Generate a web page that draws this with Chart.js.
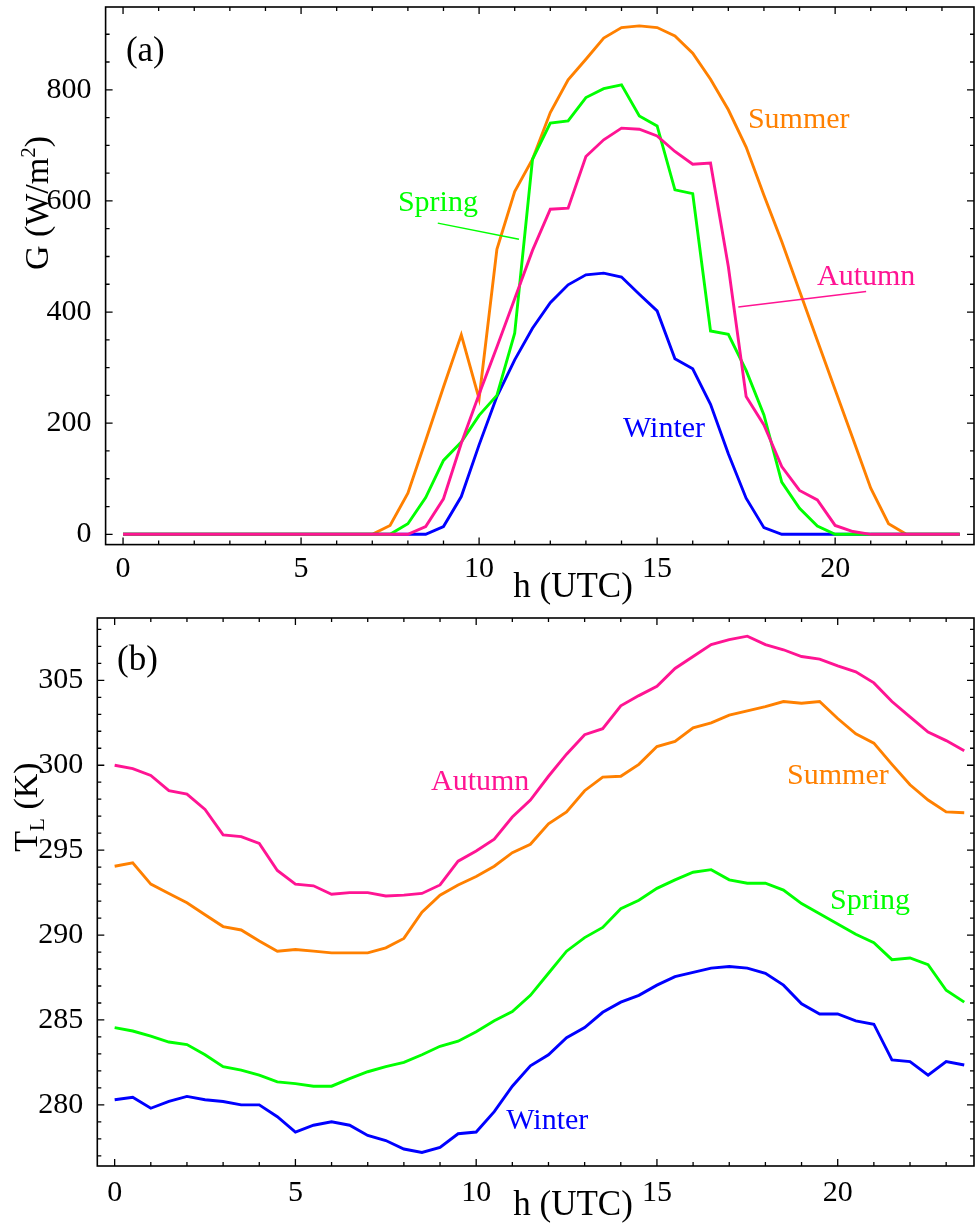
<!DOCTYPE html>
<html>
<head>
<meta charset="utf-8">
<title>Seasonal irradiance and temperature</title>
<script src="https://cdn.jsdelivr.net/npm/chart.js@4.4.1/dist/chart.umd.min.js"></script>
<style>
  body { margin: 0; background: #fff; }
  #wrapA { position: absolute; left: 0; top: 0; }
  #wrapB { position: absolute; left: 0; top: 610px; }
</style>
</head>
<body>
<div id="wrapA"><canvas id="chartA" width="976" height="610"></canvas></div>
<div id="wrapB"><canvas id="chartB" width="976" height="615"></canvas></div>
<script>
// hours (UTC), half-hourly
const hours = [0, 0.5, 1, 1.5, 2, 2.5, 3, 3.5, 4, 4.5, 5, 5.5, 6, 6.5, 7, 7.5, 8, 8.5, 9, 9.5,
    10, 10.5, 11, 11.5, 12, 12.5, 13, 13.5, 14, 14.5, 15, 15.5, 16, 16.5, 17, 17.5, 18, 18.5, 19, 19.5,
    20, 20.5, 21, 21.5, 22, 22.5, 23, 23.5];

// (a) irradiance G (W/m2)
const gSummer = [0, 0, 0, 0, 0, 0, 0, 0, 0, 0, 0, 0, 0, 0, 0, 16, 74, 169, 265, 359,
    244, 513, 617, 675, 759, 818, 855, 893, 912, 915, 912, 897, 866, 819, 764, 697, 610, 527, 438, 349,
    260, 172, 83, 19, 0, 0, 0, 0];
const gSpring = [0, 0, 0, 0, 0, 0, 0, 0, 0, 0, 0, 0, 0, 0, 0, 0, 19, 66, 133, 166,
    214, 250, 362, 675, 740, 744, 786, 802, 809, 753, 735, 620, 613, 366, 360, 295, 215, 94, 47, 15,
    0, 0, 0, 0, 0, 0, 0, 0];
const gAutumn = [0, 0, 0, 0, 0, 0, 0, 0, 0, 0, 0, 0, 0, 0, 0, 0, 0, 14, 64, 164,
    252, 337, 424, 511, 585, 587, 680, 710, 731, 729, 717, 689, 666, 668, 482, 248, 197, 122, 79, 62,
    16, 5, 0, 0, 0, 0, 0, 0];
const gWinter = [0, 0, 0, 0, 0, 0, 0, 0, 0, 0, 0, 0, 0, 0, 0, 0, 0, 0, 14, 68,
    161, 248, 314, 371, 417, 449, 467, 470, 463, 432, 402, 316, 298, 234, 145, 65, 12, 0, 0, 0,
    0, 0, 0, 0, 0, 0, 0, 0];

// (b) temperature T_L (K)
const tAutumn = [300.0, 299.8, 299.4, 298.5, 298.3, 297.4, 295.9, 295.8, 295.4, 293.8, 293.0, 292.9,
    292.4, 292.5, 292.5, 292.3, 292.35, 292.45, 292.95, 294.35, 294.95, 295.65, 296.95, 297.95,
    299.35, 300.65, 301.8, 302.15, 303.5, 304.1, 304.65, 305.7, 306.4, 307.1, 307.4, 307.6,
    307.1, 306.8, 306.4, 306.25, 305.85, 305.5, 304.85, 303.75, 302.85, 301.95, 301.45, 300.85];
const tSummer = [294.05, 294.25, 293.0, 292.45, 291.9, 291.2, 290.5, 290.3, 289.65, 289.05, 289.15, 289.05,
    288.95, 288.95, 288.95, 289.25, 289.8, 291.35, 292.35, 292.95, 293.45, 294.05, 294.85, 295.35,
    296.55, 297.25, 298.5, 299.3, 299.35, 300.05, 301.1, 301.4, 302.2, 302.5, 302.95, 303.2,
    303.45, 303.75, 303.65, 303.75, 302.75, 301.85, 301.3, 300.05, 298.85, 297.95, 297.25, 297.2];
const tSpring = [284.55, 284.35, 284.05, 283.7, 283.55, 282.95, 282.25, 282.05, 281.75, 281.35, 281.25, 281.1,
    281.1, 281.55, 281.95, 282.25, 282.5, 282.95, 283.45, 283.75, 284.3, 284.95, 285.5, 286.45,
    287.75, 289.05, 289.85, 290.45, 291.55, 292.05, 292.75, 293.25, 293.7, 293.85, 293.25, 293.05,
    293.05, 292.65, 291.85, 291.25, 290.65, 290.05, 289.55, 288.55, 288.65, 288.25, 286.75, 286.05];
const tWinter = [280.3, 280.45, 279.8, 280.2, 280.5, 280.3, 280.2, 280.0, 280.0, 279.3, 278.4, 278.8,
    279.0, 278.8, 278.2, 277.9, 277.4, 277.2, 277.5, 278.3, 278.4, 279.6, 281.1, 282.3,
    282.95, 283.95, 284.55, 285.45, 286.05, 286.45, 287.05, 287.55, 287.8, 288.05, 288.15, 288.05,
    287.75, 287.05, 285.95, 285.35, 285.35, 284.95, 284.75, 282.65, 282.55, 281.75, 282.55, 282.35];

// tick labels
const xMajorTicks = [0, 5, 10, 15, 20];
const gMajorTicks = [0, 200, 400, 600, 800];
const tMajorTicks = [280, 285, 290, 295, 300, 305];

const FONT = "'Liberation Serif', 'Times New Roman', serif";
const C_SUMMER = '#ff8000';
const C_SPRING = '#00ff00';
const C_AUTUMN = '#ff1493';
const C_WINTER = '#0000ff';

function pts(vals) {
    return hours.map((h, i) => ({ x: h, y: vals[i] }));
}

function line(label, vals, color) {
    return {
        label: label,
        data: pts(vals),
        borderColor: color,
        backgroundColor: color,
        borderWidth: 2.9,
        pointRadius: 0,
        tension: 0,
        fill: false
    };
}

function range(a, b, step) {
    const out = [];
    for (let v = a; v <= b + 1e-9; v += step) out.push(v);
    return out;
}

// frame with inward ticks on all four sides
const frameTicks = {
    id: 'frameTicks',
    afterDraw(chart, args, o) {
        const { ctx, chartArea: a, scales: { x, y } } = chart;
        ctx.save();
        ctx.strokeStyle = '#000';
        ctx.lineWidth = 1.6;
        ctx.strokeRect(a.left, a.top, a.right - a.left, a.bottom - a.top);
        ctx.lineWidth = 1.3;
        ctx.beginPath();
        o.xMinor.forEach(v => {
            const px = x.getPixelForValue(v);
            const len = o.xMajor.includes(v) ? 7 : 4;
            ctx.moveTo(px, a.bottom); ctx.lineTo(px, a.bottom - len);
            ctx.moveTo(px, a.top); ctx.lineTo(px, a.top + len);
        });
        o.yMinor.forEach(v => {
            const py = y.getPixelForValue(v);
            const len = o.yMajor.includes(v) ? 7 : 4;
            ctx.moveTo(a.left, py); ctx.lineTo(a.left + len, py);
            ctx.moveTo(a.right, py); ctx.lineTo(a.right - len, py);
        });
        ctx.stroke();
        ctx.restore();
    }
};

// text with sub/superscripts, centred on (0,0)
function drawRich(ctx, parts, size) {
    let total = 0;
    const items = parts.map(p => {
        const s = (p.sub || p.sup) ? size * 0.62 : size;
        ctx.font = s + 'px ' + FONT;
        const w = ctx.measureText(p.t).width;
        total += w;
        return { p, s, w };
    });
    let x = -total / 2;
    const base = size * 0.33;
    items.forEach(({ p, s, w }) => {
        ctx.font = s + 'px ' + FONT;
        let dy = base;
        if (p.sub) dy += size * 0.2;
        if (p.sup) dy -= size * 0.4;
        ctx.fillText(p.t, x, dy);
        x += w;
    });
}

// axis titles, panel tags and series labels
const annotate = {
    id: 'annotate',
    afterDraw(chart, args, o) {
        const { ctx, scales: { x, y } } = chart;
        ctx.save();
        ctx.textAlign = 'left';
        ctx.textBaseline = 'alphabetic';
        ctx.fillStyle = '#000';
        // y title (rotated)
        ctx.save();
        ctx.translate(o.yTitle.cx, o.yTitle.cy);
        ctx.rotate(-Math.PI / 2);
        drawRich(ctx, o.yTitle.parts, 34);
        ctx.restore();
        // x title
        ctx.save();
        ctx.translate(o.xTitle.cx, o.xTitle.cy);
        drawRich(ctx, [{ t: 'h (UTC)' }], 35);
        ctx.restore();
        // labels at data positions
        o.labels.forEach(l => {
            ctx.font = (l.size || 30) + 'px ' + FONT;
            ctx.fillStyle = l.color;
            ctx.fillText(l.text, x.getPixelForValue(l.x), y.getPixelForValue(l.y));
        });
        // leader lines
        ctx.lineWidth = 1.4;
        (o.leaders || []).forEach(l => {
            ctx.strokeStyle = l.color;
            ctx.beginPath();
            ctx.moveTo(x.getPixelForValue(l.x1), y.getPixelForValue(l.y1));
            ctx.lineTo(x.getPixelForValue(l.x2), y.getPixelForValue(l.y2));
            ctx.stroke();
        });
        ctx.restore();
    }
};

function makeScales(xmin, xmax, ymin, ymax, yTicks, yWidth, xHeight, xPad) {
    return {
        x: {
            type: 'linear', min: xmin, max: xmax,
            grid: { display: false }, border: { display: false },
            ticks: {
                color: '#000', font: { family: FONT, size: 30 }, padding: xPad,
                maxRotation: 0, autoSkip: false, callback: v => String(v)
            },
            afterBuildTicks: s => { s.ticks = xMajorTicks.map(v => ({ value: v })); },
            afterFit: s => { s.height = xHeight; s.paddingLeft = 0; s.paddingRight = 0; }
        },
        y: {
            type: 'linear', min: ymin, max: ymax,
            grid: { display: false }, border: { display: false },
            ticks: {
                color: '#000', font: { family: FONT, size: 30 }, padding: 6,
                autoSkip: false, callback: v => String(v)
            },
            afterBuildTicks: s => { s.ticks = yTicks.map(v => ({ value: v })); },
            afterFit: s => { s.width = yWidth; s.paddingTop = 0; s.paddingBottom = 0; }
        }
    };
}

const baseOpts = {
    responsive: false,
    devicePixelRatio: 1,
    animation: false,
    events: []
};

new Chart(document.getElementById('chartA').getContext('2d'), {
    type: 'line',
    data: {
        datasets: [
            line('Autumn', gAutumn, C_AUTUMN),
            line('Spring', gSpring, C_SPRING),
            line('Winter', gWinter, C_WINTER),
            line('Summer', gSummer, C_SUMMER)
        ]
    },
    options: Object.assign({}, baseOpts, {
        layout: { padding: { top: 7, right: 2, left: 0, bottom: 0 } },
        scales: makeScales(-0.49, 23.9, -18.5, 949, gMajorTicks, 105.6, 65.4, -1),
        plugins: {
            legend: { display: false },
            tooltip: { enabled: false },
            frameTicks: { xMinor: range(0, 23, 1), xMajor: xMajorTicks, yMinor: range(0, 900, 50), yMajor: gMajorTicks },
            annotate: {
                yTitle: { cx: 37, cy: 203, parts: [{ t: 'G (W/m' }, { t: '2', sup: true }, { t: ')' }] },
                xTitle: { cx: 573, cy: 585 },
                labels: [
                    { text: '(a)', x: 0.08, y: 852, color: '#000', size: 35 },
                    { text: 'Summer', x: 17.55, y: 731, color: C_SUMMER },
                    { text: 'Spring', x: 7.72, y: 582, color: C_SPRING },
                    { text: 'Autumn', x: 19.49, y: 449, color: C_AUTUMN },
                    { text: 'Winter', x: 14.04, y: 175, color: C_WINTER }
                ],
                leaders: [
                    { x1: 8.84, y1: 560, x2: 11.12, y2: 531, color: C_SPRING },
                    { x1: 17.28, y1: 409, x2: 20.87, y2: 437, color: C_AUTUMN }
                ]
            }
        }
    }),
    plugins: [frameTicks, annotate]
});

new Chart(document.getElementById('chartB').getContext('2d'), {
    type: 'line',
    data: {
        datasets: [
            line('Autumn', tAutumn, C_AUTUMN),
            line('Summer', tSummer, C_SUMMER),
            line('Spring', tSpring, C_SPRING),
            line('Winter', tWinter, C_WINTER)
        ]
    },
    options: Object.assign({}, baseOpts, {
        layout: { padding: { top: 8, right: 2, left: 0, bottom: 0 } },
        scales: makeScales(-0.48, 23.77, 276.4, 308.67, tMajorTicks, 97.3, 59, 1),
        plugins: {
            legend: { display: false },
            tooltip: { enabled: false },
            frameTicks: { xMinor: range(0, 23, 1), xMajor: xMajorTicks, yMinor: range(277, 308, 1), yMajor: tMajorTicks },
            annotate: {
                yTitle: { cx: 26, cy: 197, parts: [{ t: 'T' }, { t: 'L', sub: true }, { t: ' (K)' }] },
                xTitle: { cx: 573, cy: 593 },
                labels: [
                    { text: '(b)', x: 0.065, y: 305.6, color: '#000', size: 35 },
                    { text: 'Autumn', x: 8.75, y: 298.56, color: C_AUTUMN },
                    { text: 'Summer', x: 18.6, y: 298.92, color: C_SUMMER },
                    { text: 'Spring', x: 19.79, y: 291.53, color: C_SPRING },
                    { text: 'Winter', x: 10.83, y: 278.57, color: C_WINTER }
                ]
            }
        }
    }),
    plugins: [frameTicks, annotate]
});
</script>
</body>
</html>
